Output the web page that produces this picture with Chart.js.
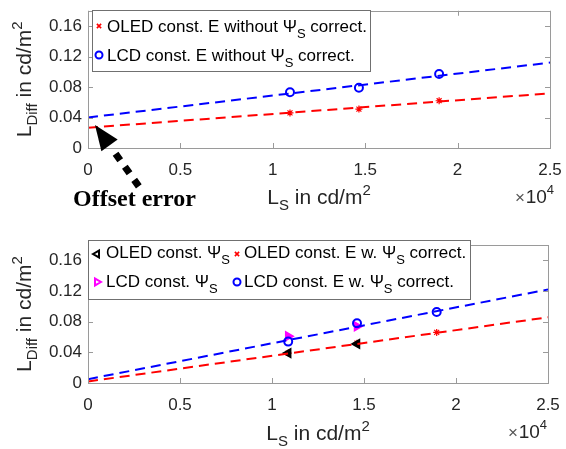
<!DOCTYPE html>
<html><head><meta charset="utf-8">
<script src="https://cdn.jsdelivr.net/npm/chart.js@4.4.0/dist/chart.umd.min.js"></script>
<style>
html,body{margin:0;padding:0;background:#fff;width:566px;height:449px;overflow:hidden}
#c1{position:absolute;left:0;top:0}
#c2{position:absolute;left:0;top:224px}
</style></head><body>
<canvas id="c1" width="566" height="224"></canvas>
<canvas id="c2" width="566" height="225"></canvas>
<script>
// ---------- data ----------
const xTicks = [0, 5000, 10000, 15000, 20000, 25000];
const xTickLabels = ['0', '0.5', '1', '1.5', '2', '2.5'];
const yTicks = [0, 0.04, 0.08, 0.12, 0.16];
const yTickLabels = ['0', '0.04', '0.08', '0.12', '0.16'];
const fitX = [0, 25000];

// top panel
const topX = [10930, 14660, 19000];
const topOled = [0.046, 0.051, 0.062];
const topLcd = [0.073, 0.079, 0.097];
const topOledFit = [0.0266, 0.0717];
const topLcdFit = [0.040, 0.112];

// bottom panel
const botX = [10880, 14620, 18950];
const botOledPsi = [0.039, 0.051];
const botOledE = [0.039, 0.052, 0.066];
const botLcdPsi = [0.061, 0.074];
const botLcdE = [0.054, 0.078, 0.0927];
const botOledFit = [0.002, 0.0857];
const botLcdFit = [0.005, 0.122];

// ---------- helpers ----------
const FAM = '"Liberation Sans", Arial, Helvetica, sans-serif';
const TXT = '#262626';
const FRAME = '#9a9a9a';
function pts(xs, ys) { return ys.map((y, i) => ({x: xs[i], y: y})); }

function rich(ctx, parts, x, y, align) {
  let w = 0;
  parts.forEach(p => { ctx.font = (p[3] || '') + p[1] + 'px ' + FAM; p.w = ctx.measureText(p[0]).width; w += p.w; });
  let cx = align === 'center' ? x - w / 2 : (align === 'right' ? x - w : x);
  ctx.textAlign = 'left';
  ctx.textBaseline = 'alphabetic';
  parts.forEach(p => { ctx.font = (p[3] || '') + p[1] + 'px ' + FAM; ctx.fillText(p[0], cx, y + (p[2] || 0)); cx += p.w; });
}

function marker(ctx, style, x, y, color, fill, radius, rot, lw) {
  ctx.save();
  ctx.strokeStyle = color;
  ctx.fillStyle = fill;
  ctx.lineWidth = lw;
  Chart.helpers.drawPoint(ctx, {pointStyle: style, radius: radius, rotation: rot, borderWidth: lw}, x, y);
  ctx.restore();
}

function lineDs(xs, ys, color) {
  return {type: 'line', data: pts(xs, ys), borderColor: color, borderWidth: 2, borderDash: [10, 6],
    pointRadius: 0, showLine: true, fill: false, order: 0};
}
function markDs(xs, ys, style, color, fill, radius, rot, lw, order) {
  return {type: 'scatter', data: pts(xs, ys), showLine: false, pointStyle: style, pointRadius: radius,
    pointRotation: rot, borderColor: color, backgroundColor: fill, pointBorderWidth: lw, borderWidth: lw,
    order: order};
}

function framePlugin(opts) {
  return {
    id: 'frame' + Math.floor(Math.random() * 1e6),
    afterDraw(chart) {
      const ctx = chart.ctx, a = chart.chartArea;
      const xs = chart.scales.x, ys = chart.scales.y;
      ctx.save();
      // frame
      ctx.strokeStyle = FRAME; ctx.lineWidth = 1;
      ctx.strokeRect(Math.round(a.left) + 0.5, Math.round(a.top) + 0.5, Math.round(a.right - a.left), Math.round(a.bottom - a.top));
      // inward ticks
      ctx.beginPath();
      xTicks.forEach(v => {
        const px = Math.round(xs.getPixelForValue(v)) + 0.5;
        ctx.moveTo(px, a.bottom); ctx.lineTo(px, a.bottom - 5);
        ctx.moveTo(px, a.top); ctx.lineTo(px, a.top + 5);
      });
      yTicks.forEach(v => {
        const py = Math.round(ys.getPixelForValue(v)) + 0.5;
        ctx.moveTo(a.left, py); ctx.lineTo(a.left + 5, py);
        ctx.moveTo(a.right, py); ctx.lineTo(a.right - 5, py);
      });
      ctx.stroke();
      ctx.fillStyle = TXT;
      // y title
      ctx.save();
      ctx.translate(31, (a.top + a.bottom) / 2);
      ctx.rotate(-Math.PI / 2);
      rich(ctx, [['L', 21, 0], ['Diff', 15, 6], [' in cd/m', 21, 0], ['2', 15, -9]], 0, 0, 'center');
      ctx.restore();
      // x title
      rich(ctx, [['L', 21, 0], ['S', 15, 6], [' in cd/m', 21, 0], ['2', 15, -9]], (a.left + a.right) / 2, opts.xTitleY, 'center');
      // x10^4
      ctx.fillStyle = '#555';
      rich(ctx, [['\u00d7', 17, 0]], opts.expX - 29, opts.expY, 'right');
      ctx.fillStyle = TXT;
      rich(ctx, [['10', 19, 0], ['4', 13, -9]], opts.expX, opts.expY, 'right');
      // legend
      const L = opts.legend;
      ctx.fillStyle = '#fff';
      ctx.fillRect(L.box[0], L.box[1], L.box[2], L.box[3]);
      ctx.strokeStyle = '#707070'; ctx.lineWidth = 1;
      ctx.strokeRect(L.box[0] + 0.5, L.box[1] + 0.5, L.box[2], L.box[3]);
      L.items.forEach(it => {
        marker(ctx, it.m[0], it.mx, it.my, it.m[1], it.m[2], it.m[3], it.m[4], it.m[5]);
        ctx.fillStyle = '#000';
        rich(ctx, it.parts, it.tx, it.ty, 'left');
      });
      if (opts.extra) opts.extra(ctx);
      ctx.restore();
    }
  };
}

function makeChart(id, datasets, g, plugOpts) {
  return new Chart(document.getElementById(id), {
    data: {datasets: datasets},
    options: {
      responsive: false, animation: false, devicePixelRatio: 1,
      layout: {padding: {top: g.top, right: g.right, left: 0, bottom: 0}},
      plugins: {legend: {display: false}, tooltip: {enabled: false}},
      scales: {
        x: {type: 'linear', min: 0, max: 25000,
          afterBuildTicks: s => { s.ticks = xTicks.map(v => ({value: v})); },
          afterFit: s => { s.height = g.xh; s.paddingLeft = 0; s.paddingRight = 0; },
          ticks: {callback: (v, i) => xTickLabels[i], font: {family: FAM, size: 17}, color: TXT, padding: 12, maxRotation: 0, autoSkip: false},
          grid: {display: false, drawTicks: false}, border: {display: false}},
        y: {type: 'linear', min: 0, max: 0.18,
          afterBuildTicks: s => { s.ticks = yTicks.map(v => ({value: v})); },
          afterFit: s => { s.width = 88; s.paddingTop = 0; s.paddingBottom = 0; },
          ticks: {callback: (v, i) => yTickLabels[i], font: {family: FAM, size: 17}, color: TXT, padding: 6, autoSkip: false},
          grid: {display: false, drawTicks: false}, border: {display: false}}
      }
    },
    plugins: [framePlugin(plugOpts)]
  });
}

const T = 'rgba(0,0,0,0)';
// ---------- top chart ----------
makeChart('c1', [
  lineDs(fitX, topLcdFit, '#0000ff'),
  lineDs(fitX, topOledFit, '#ff0000'),
  markDs(topX, topOled, 'star', '#ff0000', T, 3.5, 0, 1.2, 2),
  markDs(topX, topLcd, 'circle', '#0000ff', T, 4, 0, 2, 2)
], {top: 10.75, right: 16, xh: 76}, {
  xTitleY: 204, expX: 554, expY: 203,
  legend: {box: [92, 10, 278, 61], items: [
    {m: ['crossRot', '#ff0000', T, 3, 0, 1.6], mx: 99, my: 26, tx: 107, ty: 31.5,
     parts: [['OLED const. E without ', 17, 0], ['\u03a8', 17, 0], ['S', 13, 6], [' correct.', 17, 0]]},
    {m: ['circle', '#0000ff', T, 3.5, 0, 2], mx: 99, my: 55, tx: 107, ty: 61,
     parts: [['LCD const. E without ', 17, 0], ['\u03a8', 17, 0], ['S', 13, 6], [' correct.', 17, 0]]}
  ]},
  extra: ctx => {
    const tip = [95, 125], dir = [45, 63];
    const n = Math.hypot(dir[0], dir[1]); const ux = dir[0] / n, uy = dir[1] / n;
    const px = -uy, py = ux;
    const bx = tip[0] + ux * 25, by = tip[1] + uy * 25;
    ctx.fillStyle = '#000';
    ctx.beginPath();
    ctx.moveTo(tip[0], tip[1]);
    ctx.lineTo(bx + px * 10, by + py * 10);
    ctx.lineTo(bx - px * 10, by - py * 10);
    ctx.closePath(); ctx.fill();
    ctx.strokeStyle = '#000'; ctx.lineWidth = 7; ctx.lineCap = 'butt';
    ctx.setLineDash([8, 8]);
    ctx.beginPath();
    ctx.moveTo(tip[0] + ux * 35.4, tip[1] + uy * 35.4);
    ctx.lineTo(tip[0] + ux * 76, tip[1] + uy * 76);
    ctx.stroke();
    ctx.setLineDash([]);
    ctx.font = 'bold 24px "Liberation Serif", "Times New Roman", serif';
    ctx.textAlign = 'left'; ctx.textBaseline = 'alphabetic';
    ctx.fillText('Offset error', 73, 206);
  }
});

// ---------- bottom chart ----------
makeChart('c2', [
  lineDs(fitX, botLcdFit, '#0000ff'),
  lineDs(fitX, botOledFit, '#ff0000'),
  markDs(botX, botLcdE, 'circle', '#0000ff', T, 4, 0, 2, 2),
  markDs(botX, botLcdPsi, 'triangle', '#ff00ff', '#ff00ff', 5, 90, 1.5, 3),
  markDs(botX, botOledPsi, 'triangle', '#000000', '#000000', 5, -90, 1.5, 3),
  markDs(botX, botOledE, 'star', '#ff0000', T, 3.5, 0, 1.2, 4)
], {top: 21, right: 18, xh: 66}, {
  xTitleY: 216, expX: 547, expY: 214,
  legend: {box: [88, 16, 382, 59], items: [
    {m: ['triangle', '#000000', '#fff', 4, -90, 2], mx: 97, my: 30, tx: 106, ty: 34,
     parts: [['OLED const. ', 17, 0], ['\u03a8', 17, 0], ['S', 13, 6]]},
    {m: ['crossRot', '#ff0000', T, 3, 0, 1.6], mx: 237, my: 30, tx: 244, ty: 34,
     parts: [['OLED const. E w. ', 17, 0], ['\u03a8', 17, 0], ['S', 13, 6], [' correct.', 17, 0]]},
    {m: ['triangle', '#ff00ff', '#fff', 4, 90, 2], mx: 97, my: 58, tx: 106, ty: 63,
     parts: [['LCD const. ', 17, 0], ['\u03a8', 17, 0], ['S', 13, 6]]},
    {m: ['circle', '#0000ff', T, 3.5, 0, 2], mx: 237, my: 58, tx: 244, ty: 63,
     parts: [['LCD const. E w. ', 17, 0], ['\u03a8', 17, 0], ['S', 13, 6], [' correct.', 17, 0]]}
  ]}
});
</script>
</body></html>
